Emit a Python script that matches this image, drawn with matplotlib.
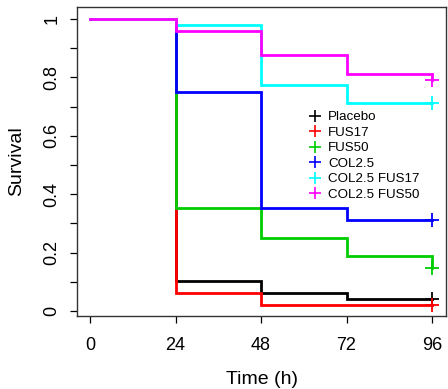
import matplotlib
matplotlib.use("Agg")
import matplotlib.pyplot as plt
from matplotlib.lines import Line2D

plt.rcParams['font.family'] = ['Liberation Sans', 'DejaVu Sans']

times = [0, 24, 48, 72, 96]
groups = ["Placebo", "FUS17", "FUS50", "COL2.5", "COL2.5 FUS17", "COL2.5 FUS50"]
colors = ["#000000", "#FF0000", "#00CD00", "#0000FF", "#00FFFF", "#FF00FF"]
placebo = [1.0, 0.104, 0.0625, 0.042, 0.042]
fus17 = [1.0, 0.0625, 0.021, 0.021, 0.021]
fus50 = [1.0, 0.354, 0.25, 0.1875, 0.146]
col25 = [1.0, 0.75, 0.354, 0.3125, 0.3125]
col25_fus17 = [1.0, 0.979, 0.775, 0.714, 0.714]
col25_fus50 = [1.0, 0.958, 0.875, 0.8125, 0.792]
series = [placebo, fus17, fus50, col25, col25_fus17, col25_fus50]
xticks = [0, 24, 48, 72, 96]
yticks = [0, 0.1, 0.2, 0.3, 0.4, 0.5, 0.6, 0.7, 0.8, 0.9, 1.0]
ylabels = ["0", "", "0.2", "", "0.4", "", "0.6", "", "0.8", "", "1"]

fig = plt.figure(figsize=(4.48, 3.89), dpi=100)
ax = fig.add_axes([77/448, (389-316)/389, (446-77)/448, (316-7)/389])

for vals, c in zip(series, colors):
    ax.step(times, vals, where='post', color=c, lw=2.0, solid_joinstyle='miter')
    ax.plot([times[-1]], [vals[-1]], marker='+', color=c, ms=10, mew=1.3, ls='none')

ax.set_xlim(-3.65, 99.93)
ax.set_ylim(-0.017, 1.041)
ax.set_xticks(xticks)
ax.set_xticklabels([str(t) for t in xticks], fontsize=13)
ax.set_yticks(yticks)
ax.set_yticklabels(ylabels, fontsize=13, rotation=90, va='center')
ax.tick_params(direction='out', length=5, width=0.9)
ax.tick_params(axis='x', pad=10)
ax.tick_params(axis='y', pad=7)
for s in ax.spines.values():
    s.set_linewidth(1.0)
    s.set_color('#333333')

ax.set_xlabel("Time (h)", fontsize=14, labelpad=12)
ax.set_ylabel("Survival", fontsize=14, labelpad=13)

handles = [Line2D([], [], color=c, marker='+', ls='none', ms=9, mew=1.2) for c in colors]
ax.legend(handles, groups, loc='upper left', bbox_to_anchor=(0.61, 0.685),
          frameon=False, fontsize=9.6, handlelength=1.0, handletextpad=0.45,
          labelspacing=0.24, borderpad=0)

fig.savefig("out.png", dpi=100)
